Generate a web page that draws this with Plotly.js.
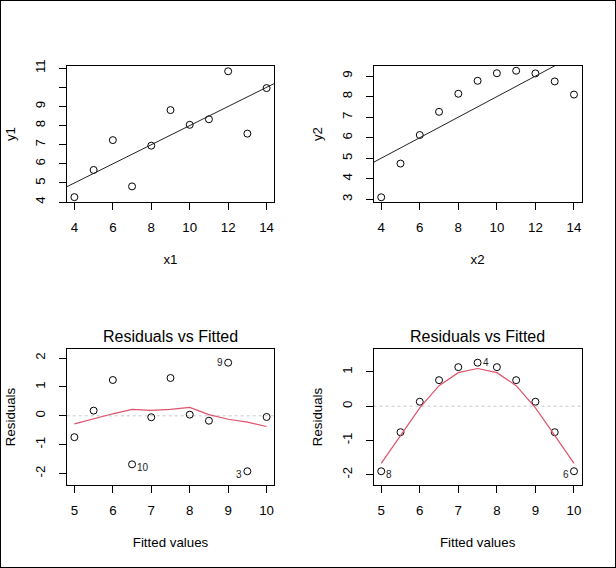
<!DOCTYPE html>
<html>
<head>
<meta charset="utf-8">
<script src="https://cdn.plot.ly/plotly-3.0.1.min.js"></script>
<style>
html,body{margin:0;padding:0;background:#fff;}
#wrap{position:relative;width:616px;height:568px;}
#chart{position:absolute;left:0;top:0;width:616px;height:568px;}
#frame{position:absolute;left:0;top:0;width:616px;height:568px;box-sizing:border-box;border:1px solid #000;pointer-events:none;}
</style>
</head>
<body>
<div id="wrap"><div id="chart"></div><div id="frame"></div></div>
<script>
// ---- data (Anscombe sets 1 and 2) ----
const x1 = [10, 8, 13, 9, 11, 14, 6, 4, 12, 7, 5];
const y1 = [8.04, 6.95, 7.58, 8.81, 8.33, 9.96, 7.24, 4.26, 10.84, 4.82, 5.68];
const x2 = [10, 8, 13, 9, 11, 14, 6, 4, 12, 7, 5];
const y2 = [9.14, 8.14, 8.74, 8.77, 9.26, 8.10, 6.13, 3.10, 9.13, 7.26, 4.74];

const intercept1 = 3.0, slope1 = 0.5;
const intercept2 = 3.0, slope2 = 0.5;

const fitted1 = [8.0, 7.0, 9.5, 7.5, 8.5, 10.0, 6.0, 5.0, 9.0, 6.5, 5.5];
const resid1  = [0.04, -0.05, -1.92, 1.31, -0.17, -0.04, 1.24, -0.74, 1.84, -1.68, 0.18];
const fitted2 = [8.0, 7.0, 9.5, 7.5, 8.5, 10.0, 6.0, 5.0, 9.0, 6.5, 5.5];
const resid2  = [1.14, 1.14, -0.76, 1.27, 0.76, -1.90, 0.13, -1.90, 0.13, 0.76, -0.76];

const smoothX  = [5, 5.5, 6, 6.5, 7, 7.5, 8, 8.5, 9, 9.5, 10];
const smooth1  = [-0.28, -0.10, 0.07, 0.22, 0.19, 0.22, 0.29, 0.04, -0.12, -0.22, -0.37];
const smooth2  = [-1.67, -0.85, -0.05, 0.60, 0.98, 1.10, 0.98, 0.60, -0.05, -0.85, -1.67];

const ids1 = [3, 9, 10];   // 1-based observation numbers labelled
const ids2 = [4, 6, 8];

const yTicks1 = [4, 5, 6, 7, 8, 9, 10, 11];
const yTickText1 = ['4', '5', '6', '7', '8', '9', '', '11'];
const yTicks2 = [3, 4, 5, 6, 7, 8, 9];
const yTicks3 = [-2, -1, 0, 1, 2];
const yTicks4 = [-2, -1, 0, 1];

// ---- styling / layout ----
const FONT = 'Liberation Sans, Arial, Helvetica, sans-serif';
const FS = 13.3;
const W = 616, H = 568;
const px = v => v / W;
const py = v => 1 - v / H;

const xr1 = [3.6, 14.4], yr1 = [3.99, 11.13];
const xr2 = [3.6, 14.4], yr2 = [2.854, 9.506];
const xr3 = [4.8, 10.2], yr3 = [-2.396, 2.314];
const xr4 = [4.8, 10.2], yr4 = [-2.302, 1.670];

const ptMarker = {symbol: 'circle-open', size: 7, color: '#000', line: {width: 1, color: '#000'}};
const redCol = '#DF536B';

const traces = [
  {x: x1, y: y1, xaxis: 'x', yaxis: 'y', mode: 'markers', type: 'scatter', marker: ptMarker},
  {x: xr1, y: xr1.map(v => intercept1 + slope1 * v), xaxis: 'x', yaxis: 'y', mode: 'lines', type: 'scatter', line: {color: '#222', width: 1}},
  {x: x2, y: y2, xaxis: 'x2', yaxis: 'y2', mode: 'markers', type: 'scatter', marker: ptMarker},
  {x: xr2, y: xr2.map(v => intercept2 + slope2 * v), xaxis: 'x2', yaxis: 'y2', mode: 'lines', type: 'scatter', line: {color: '#222', width: 1}},
  {x: fitted1, y: resid1, xaxis: 'x3', yaxis: 'y3', mode: 'markers', type: 'scatter', marker: ptMarker},
  {x: smoothX, y: smooth1, xaxis: 'x3', yaxis: 'y3', mode: 'lines', type: 'scatter', line: {color: redCol, width: 1.2}},
  {x: fitted2, y: resid2, xaxis: 'x4', yaxis: 'y4', mode: 'markers', type: 'scatter', marker: ptMarker},
  {x: smoothX, y: smooth2, xaxis: 'x4', yaxis: 'y4', mode: 'lines', type: 'scatter', line: {color: redCol, width: 1.2}}
];
traces.forEach(t => { t.showlegend = false; t.hoverinfo = 'skip'; t.cliponaxis = true; });

function xAxis(domain, range, anchor, dtick, title) {
  return {
    domain: domain, range: range, anchor: anchor, dtick: dtick, tick0: 0,
    showgrid: false, zeroline: false, showline: true, mirror: true,
    linecolor: '#000', linewidth: 1, ticks: 'outside', ticklen: 7, tickcolor: '#000',
    ticklabelstandoff: 6,
    tickfont: {family: FONT, size: FS, color: '#000'},
    title: {text: title, font: {family: FONT, size: FS, color: '#000'}, standoff: 20},
    automargin: false, fixedrange: true
  };
}
function yAxis(domain, range, anchor, tickvals, ticktext, title) {
  return {
    domain: domain, range: range, anchor: anchor,
    tickmode: 'array', tickvals: tickvals, ticktext: ticktext,
    showgrid: false, zeroline: false, showline: true, mirror: true,
    linecolor: '#000', linewidth: 1, ticks: 'outside', ticklen: 7, tickcolor: '#000',
    tickangle: -90, ticklabelstandoff: 8,
    tickfont: {family: FONT, size: FS, color: '#000'},
    title: {text: title, font: {family: FONT, size: FS, color: '#000'}, standoff: 14},
    automargin: false, fixedrange: true
  };
}

const colL = [px(66.7), px(274.3)];
const colR = [px(373.5), px(581.7)];
const rowT = [py(202.3), py(65.7)];
const rowB = [py(485), py(349)];

const layout = {
  width: W, height: H,
  margin: {l: 0, r: 0, t: 0, b: 0, pad: 0},
  paper_bgcolor: '#fff', plot_bgcolor: '#fff',
  font: {family: FONT, color: '#000'},
  showlegend: false,
  xaxis:  xAxis(colL, xr1, 'y',  2, 'x1'),
  yaxis:  yAxis(rowT, yr1, 'x', yTicks1, yTickText1, 'y1'),
  xaxis2: xAxis(colR, xr2, 'y2', 2, 'x2'),
  yaxis2: yAxis(rowT, yr2, 'x2', yTicks2, yTicks2.map(String), 'y2'),
  xaxis3: xAxis(colL, xr3, 'y3', 1, 'Fitted values'),
  yaxis3: yAxis(rowB, yr3, 'x3', yTicks3, yTicks3.map(String), 'Residuals'),
  xaxis4: xAxis(colR, xr4, 'y4', 1, 'Fitted values'),
  yaxis4: yAxis(rowB, yr4, 'x4', yTicks4, yTicks4.map(String), 'Residuals'),
  shapes: [
    {type: 'line', xref: 'x3 domain', x0: 0, x1: 1, yref: 'y3', y0: 0, y1: 0, line: {color: '#C8C8C8', width: 1, dash: 'dot'}, layer: 'below'},
    {type: 'line', xref: 'x4 domain', x0: 0, x1: 1, yref: 'y4', y0: 0, y1: 0, line: {color: '#C8C8C8', width: 1, dash: 'dot'}, layer: 'below'}
  ],
  annotations: []
};

// panel titles
[[colL, 'Residuals vs Fitted'], [colR, 'Residuals vs Fitted']].forEach(([c, t]) => {
  layout.annotations.push({
    xref: 'paper', yref: 'paper', x: (c[0] + c[1]) / 2, y: py(336.7),
    xanchor: 'center', yanchor: 'middle', showarrow: false, text: t,
    font: {family: FONT, size: 16, color: '#000'}
  });
});

// observation id labels
function idLabels(ids, fx, rs, xa, ya) {
  const mid = (Math.min(...fx) + Math.max(...fx)) / 2;
  ids.forEach(id => {
    const i = id - 1;
    const right = fx[i] <= mid;
    layout.annotations.push({
      xref: xa, yref: ya, x: fx[i], y: rs[i], text: String(id), showarrow: false,
      xanchor: right ? 'left' : 'right', yanchor: 'middle',
      xshift: right ? 3 : -3, yshift: rs[i] < 0 ? -3 : 0,
      font: {family: FONT, size: 10, color: '#222'}
    });
  });
}
idLabels(ids1, fitted1, resid1, 'x3', 'y3');
idLabels(ids2, fitted2, resid2, 'x4', 'y4');

Plotly.newPlot('chart', traces, layout, {staticPlot: true, displayModeBar: false});
</script>
</body>
</html>
